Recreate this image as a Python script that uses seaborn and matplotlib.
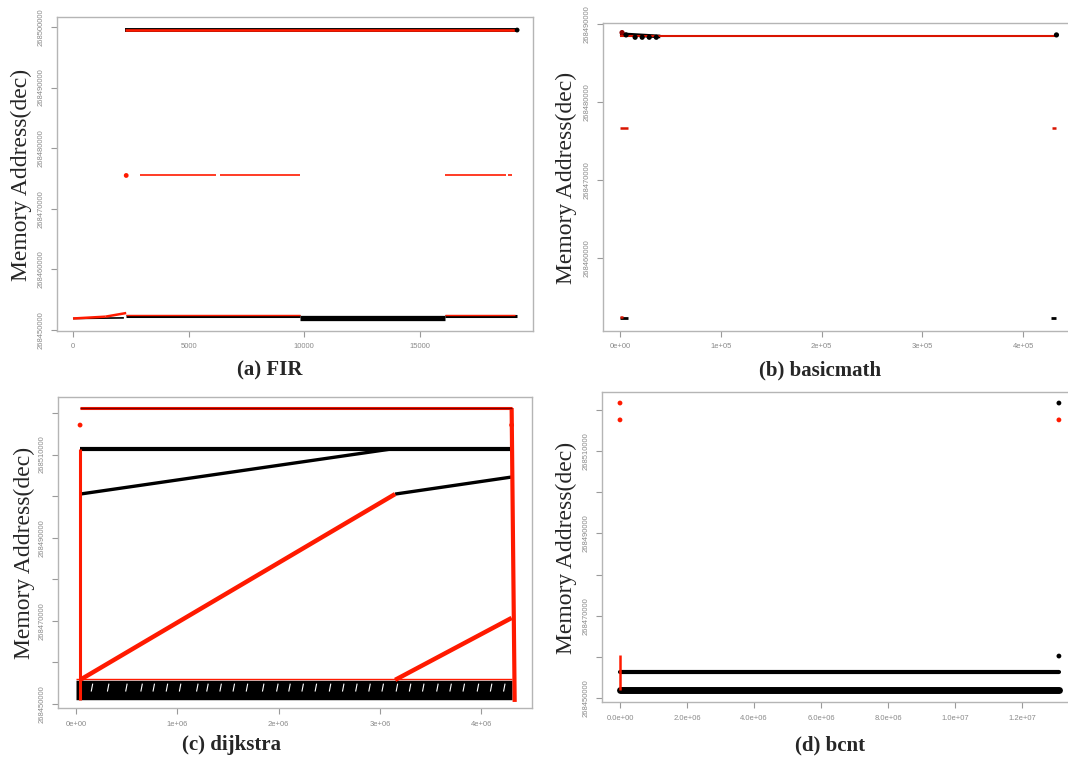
import numpy as np
import pandas as pd
import matplotlib
matplotlib.use("Agg")
import matplotlib.pyplot as plt
import seaborn as sns

# ---------------- data (segments: x pairs, y pairs) ----------------
# (a) FIR
fir_black_x = [[2250, 19200], [2300, 9800], [9800, 16100], [16100, 19200], [0, 2200]]
fir_black_y = [[268499450, 268499450], [268452300, 268452300], [268451900, 268451900],
               [268452300, 268452300], [268451900, 268452000]]
fir_black_w = [2.8, 2.2, 3.8, 2.2, 1.2]
fir_red_x = [[2250, 19100], [2900, 6200], [6350, 9800], [16100, 18700], [18800, 19000],
             [0, 1400], [1400, 2300], [2300, 9800], [16100, 19100]]
fir_red_y = [[268499550, 268499550], [268475500, 268475500], [268475500, 268475500],
             [268475500, 268475500], [268475500, 268475500],
             [268451900, 268452200], [268452200, 268452800], [268452400, 268452400], [268452400, 268452400]]
fir_red_w = [1.9, 1.2, 1.2, 1.2, 1.2, 1.8, 1.8, 1.0, 1.0]
fir_dots_x = [2300, 19200]
fir_dots_y = [268475500, 268499500]
fir_dots_c = ["red", "black"]

# (b) basicmath
bm_black_x = [[0, 40000], [0, 8000], [428000, 433000]]
bm_black_y = [[268488700, 268488400], [268452300, 268452300], [268452300, 268452300]]
bm_black_w = [2.6, 2.0, 2.0]
bm_red_x = [[0, 433000], [0, 8000], [429000, 433000], [0, 3000]]
bm_red_y = [[268488500, 268488500], [268476700, 268476700], [268476700, 268476700], [268452400, 268452400]]
bm_red_w = [1.5, 1.8, 1.8, 1.8]
bm_dots_x = [433000, 2000, 6000, 15000, 22000, 29000, 36000]
bm_dots_y = [268488600, 268488900, 268488600, 268488300, 268488300, 268488300, 268488300]
bm_dots_c = ["black", "darkred", "black", "black", "black", "black", "black"]

# (c) dijkstra
dj_black_x = [[40000, 4300000], [40000, 3100000], [3150000, 4300000], [0, 4300000]]
dj_black_y = [[268511300, 268511300], [268500500, 268511300], [268500500, 268504600], [268453300, 268453300]]
dj_black_w = [3.0, 2.4, 2.4, 14.0]
dj_red_x = [[40000, 4300000], [40000, 3150000], [3150000, 4300000], [40000, 40000],
            [4300000, 4330000], [0, 4300000]]
dj_red_y = [[268521200, 268521200], [268455800, 268500500], [268455800, 268470700],
            [268451000, 268511300], [268521200, 268450500], [268455900, 268455900]]
dj_red_w = [2.2, 3.2, 3.2, 2.2, 3.0, 1.0]
dj_top_dark_x = [40000, 4300000]
dj_top_dark_y = [268521200, 268521200]
dj_dots_x = [40000, 4300000]
dj_dots_y = [268517100, 268517100]
dj_dots_c = ["red", "red"]
# gaps visible inside the dense black band (start x of each white stroke)
dj_gap_x = [150000, 310000, 490000, 640000, 760000, 890000, 1020000, 1190000, 1290000,
            1420000, 1550000, 1680000, 1840000, 1980000, 2100000, 2230000, 2360000,
            2500000, 2630000, 2760000, 2890000, 3020000, 3160000, 3290000, 3420000,
            3560000, 3690000, 3820000, 3960000, 4090000, 4220000]

# (d) bcnt
bc_black_x = [[0, 13100000], [0, 13100000]]
bc_black_y = [[268456300, 268456300], [268451900, 268451900]]
bc_black_w = [3.0, 5.0]
bc_red_x = [[0, 0]]
bc_red_y = [[268451900, 268460500]]
bc_red_w = [1.8]
bc_dots_x = [0, 0, 13100000, 13100000, 13100000]
bc_dots_y = [268521700, 268517600, 268521700, 268517600, 268460200]
bc_dots_c = ["red", "red", "black", "red", "black"]

# ticks
fir_xticks = [0, 5000, 10000, 15000]
fir_xlabels = ["0", "5000", "10000", "15000"]
fir_yticks = [268450000, 268460000, 268470000, 268480000, 268490000, 268500000]
fir_ylabels = ["268450000", "268460000", "268470000", "268480000", "268490000", "268500000"]
bm_xticks = [0, 100000, 200000, 300000, 400000]
bm_xlabels = ["0e+00", "1e+05", "2e+05", "3e+05", "4e+05"]
bm_yticks = [268460000, 268470000, 268480000, 268490000]
bm_ylabels = ["268460000", "268470000", "268480000", "268490000"]
dj_xticks = [0, 1000000, 2000000, 3000000, 4000000]
dj_xlabels = ["0e+00", "1e+06", "2e+06", "3e+06", "4e+06"]
dj_yticks = [268450000, 268460000, 268470000, 268480000, 268490000, 268500000, 268510000, 268520000]
dj_ylabels = ["268450000", "", "268470000", "", "268490000", "", "268510000", ""]
bc_xticks = [0, 2000000, 4000000, 6000000, 8000000, 10000000, 12000000]
bc_xlabels = ["0.0e+00", "2.0e+06", "4.0e+06", "6.0e+06", "8.0e+06", "1.0e+07", "1.2e+07"]
bc_yticks = dj_yticks
bc_ylabels = dj_ylabels

titles = ["(a) FIR", "(b) basicmath", "(c) dijkstra", "(d) bcnt"]
ylabel = "Memory Address(dec)"

# ---------------- drawing ----------------
sns.set_style("white")
plt.rcParams["font.family"] = ["Liberation Sans", "DejaVu Sans"]

W, H = 1068, 759
fig = plt.figure(figsize=(W / 100, H / 100), dpi=100)


def add_ax(l, r, t, b):
    return fig.add_axes([l / W, 1 - b / H, (r - l) / W, (b - t) / H])


def segs(ax, xs, ys, ws, color, cap="butt", z=2):
    for x, y, w in zip(xs, ys, ws):
        df = pd.DataFrame({"x": x, "y": y})
        sns.lineplot(data=df, x="x", y="y", ax=ax, color=color, lw=w,
                     sort=False, estimator=None, solid_capstyle=cap, zorder=z)


def dots(ax, xs, ys, cs, s=12):
    df = pd.DataFrame({"x": xs, "y": ys, "c": cs})
    sns.scatterplot(data=df, x="x", y="y", hue="c",
                    palette={"red": "#ff1a00", "black": "black", "darkred": "#8b0000"},
                    ax=ax, s=s, linewidth=0, legend=False, zorder=5)


def style(ax, xlim, ylim, xt, xl, yt, yl):
    ax.set_xlim(*xlim)
    ax.set_ylim(*ylim)
    ax.set_xticks(xt)
    ax.set_xticklabels(xl)
    ax.set_yticks(yt)
    ax.set_yticklabels(yl, rotation=90, va="center")
    ax.set_xlabel("")
    ax.set_ylabel("")
    for sp in ax.spines.values():
        sp.set_color("#b5b5b5")
        sp.set_linewidth(1.0)
    ax.tick_params(axis="both", colors="#9a9a9a", labelcolor="#8a8a8a",
                   labelsize=5.5, length=4, width=0.8, pad=5, direction="out",
                   bottom=True, left=True)


COL_RED = "#ff1a00"

# (a)
axa = add_ax(57, 533, 17, 331)
segs(axa, fir_black_x, fir_black_y, fir_black_w, "black")
segs(axa, fir_red_x, fir_red_y, fir_red_w, COL_RED, z=3)
dots(axa, fir_dots_x, fir_dots_y, fir_dots_c)
style(axa, (-692, 19887), (268449835, 268501650), fir_xticks, fir_xlabels, fir_yticks, fir_ylabels)

# (b)
axb = add_ax(603, 1074, 23, 331)
segs(axb, bm_black_x, bm_black_y, bm_black_w, "black")
segs(axb, bm_red_x, bm_red_y, bm_red_w, "#d91400", z=3)
dots(axb, bm_dots_x, bm_dots_y, bm_dots_c, s=14)
style(axb, (-16870, 450400), (268450640, 268490128), bm_xticks, bm_xlabels, bm_yticks, bm_ylabels)

# (c)
axc = add_ax(58, 532, 397, 708)
segs(axc, dj_black_x, dj_black_y, dj_black_w, "black")
gap_x = [[g, g + 15000] for g in dj_gap_x]
gap_y = [[268453000, 268454900] for _ in dj_gap_x]
segs(axc, gap_x, gap_y, [0.8] * len(dj_gap_x), "white", z=2.5)
segs(axc, dj_red_x, dj_red_y, dj_red_w, COL_RED, z=3)
segs(axc, [dj_top_dark_x], [dj_top_dark_y], [1.0], "#7a0000", z=3.5)
dots(axc, dj_dots_x, dj_dots_y, dj_dots_c, s=12)
style(axc, (-177700, 4501000), (268449040, 268523850), dj_xticks, dj_xlabels, dj_yticks, dj_ylabels)

# (d)
axd = add_ax(602, 1076, 392, 702)
segs(axd, bc_black_x, bc_black_y, bc_black_w, "black", cap="round")
segs(axd, bc_red_x, bc_red_y, bc_red_w, COL_RED, z=3)
dots(axd, bc_dots_x, bc_dots_y, bc_dots_c, s=12)
style(axd, (-537000, 13610000), (268449030, 268524380), bc_xticks, bc_xlabels, bc_yticks, bc_ylabels)

# titles and y labels
serif = ["Liberation Serif", "DejaVu Serif"]
for (x, y), t in zip([(270, 370), (820, 370), (232, 745), (830, 745)], titles):
    fig.text(x / W, 1 - y / H, t, ha="center", va="center", fontsize=15,
             fontweight="bold", family=serif)
for (x, y) in [(21, 175), (566, 178), (24, 553), (566, 548)]:
    fig.text(x / W, 1 - y / H, ylabel, ha="center", va="center", rotation=90,
             fontsize=17, family=serif)

fig.savefig("out.png", dpi=100)
